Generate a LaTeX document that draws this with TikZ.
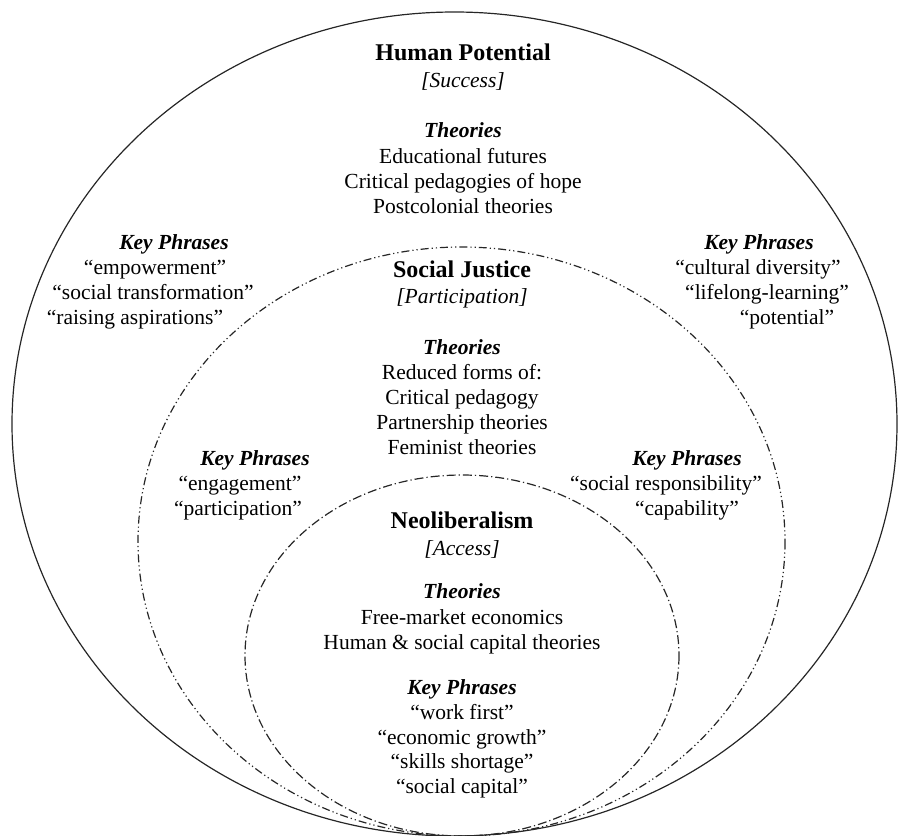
\documentclass[tikz,border=0pt]{standalone}
\usepackage{fontspec}
\setmainfont{Liberation Serif}
\begin{document}
\begin{tikzpicture}[x=1pt,y=-1pt,
  txt/.style={font=\fontsize{21.5}{25}\selectfont, inner sep=0pt, text height=14pt, text depth=5pt, anchor=center},
  head/.style={txt, font=\fontsize{24}{25}\selectfont\bfseries},
  sub/.style={txt, font=\fontsize{21.5}{25}\selectfont\itshape},
  kp/.style={txt, font=\fontsize{21.5}{25}\selectfont\bfseries\itshape},
  ring/.style={line width=1.2pt, black!85},
  midring/.style={ring, dash pattern=on 8pt off 3pt on 1.2pt off 3pt on 1.2pt off 3pt},
  inring/.style={ring, dash pattern=on 9pt off 3pt on 1.2pt off 3pt}]
\useasboundingbox (0,0) rectangle (898,836);
\begin{scope}
\clip (0,0) rectangle (898,836);
\draw[ring] (454.5,424) ellipse [x radius=442.5, y radius=412];
\draw[midring] (461.5,541.5) ellipse [x radius=323.5, y radius=294.5];
\draw[inring] (462,655.5) ellipse [x radius=217, y radius=180.5];
\end{scope}
\begin{scope}[shift={(0,3)}]
% Human Potential
\node[head] (hp) at (463,53) {Human Potential};
\node[sub] (hps) at (463,80) {[Success]};
\node[kp] (hpt) at (463,130) {Theories};
\node[txt] (hp1) at (463,156) {Educational futures};
\node[txt] (hp2) at (463,181) {Critical pedagogies of hope};
\node[txt] (hp3) at (463,206) {Postcolonial theories};
\node[kp] (hpkl) at (174,242) {Key Phrases};
\node[txt] (hpl1) at (155,267) {“empowerment”};
\node[txt] (hpl2) at (153,292) {“social transformation”};
\node[txt] (hpl3) at (135,317) {“raising aspirations”};
\node[kp] (hpkr) at (759,242) {Key Phrases};
\node[txt] (hpr1) at (758,267) {“cultural diversity”};
\node[txt] (hpr2) at (767,292) {“lifelong-learning”};
\node[txt] (hpr3) at (787,317) {“potential”};
% Social Justice
\node[head] (sj) at (462,270) {Social Justice};
\node[sub] (sjs) at (462,296) {[Participation]};
\node[kp] (sjt) at (462,347) {Theories};
\node[txt] (sj1) at (462,372) {Reduced forms of:};
\node[txt] (sj2) at (462,397) {Critical pedagogy};
\node[txt] (sj3) at (462,422) {Partnership theories};
\node[txt] (sj4) at (462,447) {Feminist theories};
\node[kp] (sjkl) at (255,458) {Key Phrases};
\node[txt] (sjl1) at (240,483) {“engagement”};
\node[txt] (sjl2) at (238,508) {“participation”};
\node[kp] (sjkr) at (687,458) {Key Phrases};
\node[txt] (sjr1) at (666,483) {“social responsibility”};
\node[txt] (sjr2) at (687,508) {“capability”};
% Neoliberalism
\node[head] (nl) at (462,521) {Neoliberalism};
\node[sub] (nls) at (462,548) {[Access]};
\node[kp] (nlt) at (462,591) {Theories};
\node[txt] (nl1) at (462,617) {Free-market economics};
\node[txt] (nl2) at (462,642) {Human \& social capital theories};
\node[kp] (nlk) at (462,687) {Key Phrases};
\node[txt] (nlk1) at (462,712) {“work first”};
\node[txt] (nlk2) at (462,737) {“economic growth”};
\node[txt] (nlk3) at (462,761) {“skills shortage”};
\node[txt] (nlk4) at (462,786) {“social capital”};
\end{scope}
\end{tikzpicture}
\end{document}
